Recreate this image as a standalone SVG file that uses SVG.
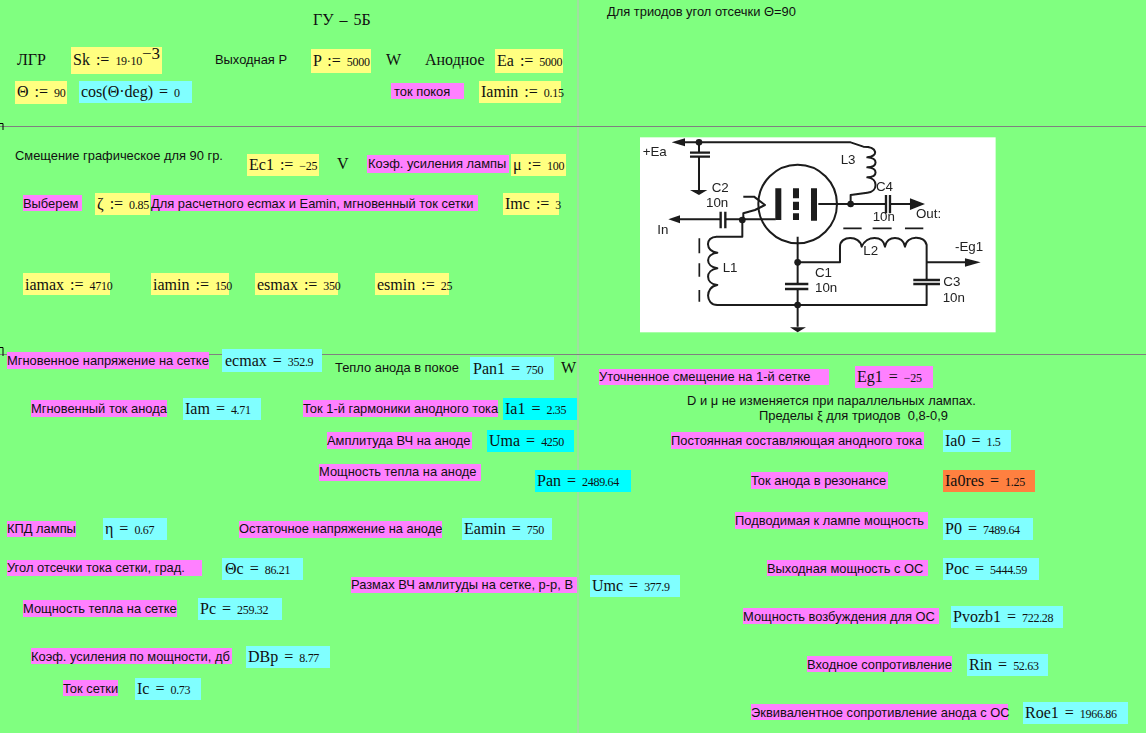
<svg xmlns="http://www.w3.org/2000/svg" width="1146" height="733" viewBox="0 0 1146 733">
<style>
text{fill:#101010;white-space:pre}
.s{font:12.900px "Liberation Sans",Arial,sans-serif}
.m{font:16px "Liberation Serif","Times New Roman",serif;word-spacing:2px}
.n{font-size:12px;letter-spacing:-.3px}
.y{fill:#ffff80}.c{fill:#80ffff}.p{fill:#ff80ff}.a{fill:#00ffff}.o{fill:#ff8040}
.w{fill:none;stroke:#1a1a1a;stroke-width:6;stroke-linejoin:round}
.t{font:40px "Liberation Sans",Arial,sans-serif;fill:#222}
.k{fill:#1a1a1a}
</style>
<defs>
<filter id="soft" x="-5%" y="-5%" width="110%" height="110%"><feGaussianBlur stdDeviation="1.8"/></filter>
</defs>
<rect width="1146" height="733" fill="#80ff80"/>
<g id="rules" fill="none">
<path d="M578 0V733" stroke="#c0c0c0"/>
<path d="M0 126.500H1146M0 354.500H1146" stroke="#808080"/>
<path d="M0 123.500H3V130M0 347.500H3V356" stroke="#000"/>
</g>

<g id="title"><text class="m" x="313" y="25">ГУ – 5Б</text></g>
<g id="lgr"><text class="m" x="17" y="65">ЛГР</text></g>
<g id="sk"><rect class="y" x="71" y="47" width="91" height="27"/><text class="m" x="73" y="65">Sk := <tspan class="n">19·10</tspan><tspan dy="-6" font-size="17">−3</tspan></text></g>
<g id="out-p-label"><text class="s" x="215" y="64">Выходная Р</text></g>
<g id="p"><rect class="y" x="311" y="49" width="60" height="24"/><text class="m" x="313" y="66">P := <tspan class="n">5000</tspan></text></g>
<g id="p-unit"><text class="m" x="386" y="65">W</text></g>
<g id="anode-label"><text class="m" x="425" y="65">Анодное</text></g>
<g id="ea"><rect class="y" x="495" y="49" width="68" height="24"/><text class="m" x="497" y="66">Ea := <tspan class="n">5000</tspan></text></g>
<g id="theta"><rect class="y" x="15" y="81" width="52" height="23"/><text class="m" x="17" y="97">Θ := <tspan class="n">90</tspan></text></g>
<g id="cos"><rect class="c" x="79" y="81" width="113" height="22"/><text class="m" x="81" y="97">cos(Θ·deg) = <tspan class="n">0</tspan></text></g>
<g id="idle-label"><rect class="p" x="391" y="83" width="73" height="16"/><text class="s" x="394" y="96">ток покоя</text></g>
<g id="iamin0"><rect class="y" x="479" y="81" width="82" height="22"/><text class="m" x="481" y="97">Iamin := <tspan class="n">0.15</tspan></text></g>
<g id="triode-note"><text class="s" x="607" y="16">Для триодов угол отсечки Θ=90</text></g>

<g id="bias-label"><text class="s" x="15" y="160">Смещение графическое для 90 гр.</text></g>
<g id="ec1"><rect class="y" x="247" y="154" width="72" height="22"/><text class="m" x="249" y="170">Ec1 := <tspan class="n">−25</tspan></text></g>
<g id="ec1-unit"><text class="m" x="337" y="169">V</text></g>
<g id="mu-label"><rect class="p" x="367" y="155" width="142" height="18"/><text class="s" x="368" y="168">Коэф. усиления лампы</text></g>
<g id="mu"><rect class="y" x="511" y="154" width="55" height="22"/><text class="m" x="513" y="170">μ := <tspan class="n">100</tspan></text></g>
<g id="choose-label"><rect class="p" x="23" y="195" width="59" height="16"/><text class="s" x="23" y="208">Выберем</text></g>
<g id="zeta"><rect class="y" x="95" y="193" width="55" height="22"/><text class="m" x="97" y="209">ζ := <tspan class="n">0.85</tspan></text></g>
<g id="imc-label"><rect class="p" x="151" y="195" width="327" height="16"/><text class="s" x="151" y="208">Для расчетного ecmax и Eamin, мгновенный ток сетки</text></g>
<g id="imc"><rect class="y" x="503" y="193" width="56" height="22"/><text class="m" x="505" y="209">Imc := <tspan class="n">3</tspan></text></g>
<g id="iamax"><rect class="y" x="23" y="273" width="87" height="22"/><text class="m" x="25" y="290">iamax := <tspan class="n">4710</tspan></text></g>
<g id="iamin"><rect class="y" x="151" y="273" width="78" height="22"/><text class="m" x="153" y="290">iamin := <tspan class="n">150</tspan></text></g>
<g id="esmax"><rect class="y" x="255" y="273" width="83" height="22"/><text class="m" x="257" y="290">esmax := <tspan class="n">350</tspan></text></g>
<g id="esmin"><rect class="y" x="375" y="273" width="74" height="22"/><text class="m" x="377" y="290">esmin := <tspan class="n">25</tspan></text></g>

<g id="schematic" transform="translate(630 130) scale(.3333)">
<rect x="30" y="22" width="1067" height="585" fill="#fff"/>
<g id="connectors" filter="url(#soft)">
<path class="w" d="M160 37H662L700 50C745 50 745 80 712 82C745 85 745 110 712 112C745 115 745 140 712 142C745 145 745 185 712 188L662 195V222M565 222H768M780 222H840M207 37V68M207 80V180M135 268H270M285 268H437M337 270V320H260C225 320 225 365 262 368C225 372 225 410 262 415C225 420 225 460 262 465C225 470 225 525 262 525H890V462M890 450V345C885 315 830 315 825 350C820 315 770 315 765 350C760 315 710 315 695 350C690 315 630 315 630 350V397H503M503 320V462M503 477V590M890 397H1010M340 200H372L405 225L375 240L340 250V270"/>
<path class="w" style="stroke-width:7" d="M180 68H240M180 80H240M272 245V295M286 245V295M768 195V250M780 195V250M465 462H535M465 477H535M850 450H930M850 462H930"/>
<path class="w" style="stroke-width:5" d="M640 295H695M728 295H785M825 295H880M208 325V370M208 400V440M208 480V515"/>
<circle cx="503" cy="222" r="118" class="w"/>
<path class="w" style="stroke-width:18" d="M445 175V270M552 175V272M498 175V205M498 215V240M498 250V270"/>
<g class="k">
<circle cx="207" cy="37" r="10"/><circle cx="662" cy="222" r="10"/><circle cx="337" cy="270" r="10"/><circle cx="503" cy="397" r="10"/><circle cx="503" cy="525" r="10"/>
<path d="M125 37L165 25V49ZM115 268L150 256V280ZM885 222L840 205V240ZM1052 397L1005 385V410ZM180 180H232L207 195ZM480 592H528L503 607Z"/>
</g>
<g id="schematic-labels">
<text class="t" x="38" y="78">+Ea</text>
<text class="t" x="632" y="102">L3</text>
<text class="t" x="245" y="185">C2</text>
<text class="t" x="228" y="231">10n</text>
<text class="t" x="82" y="313">In</text>
<text class="t" x="278" y="425">L1</text>
<text class="t" x="738" y="183">C4</text>
<text class="t" x="728" y="274">10n</text>
<text class="t" x="858" y="263">Out:</text>
<text class="t" x="700" y="374">L2</text>
<text class="t" x="975" y="364">-Eg1</text>
<text class="t" x="555" y="441">C1</text>
<text class="t" x="555" y="487">10n</text>
<text class="t" x="940" y="469">C3</text>
<text class="t" x="938" y="515">10n</text>
</g>
</g>
</g>

<g id="ecmax-label"><rect class="p" x="7" y="352" width="202" height="17"/><text class="s" x="7" y="365">Мгновенное напряжение на сетке</text></g>
<g id="ecmax"><rect class="c" x="222" y="349" width="100" height="23"/><text class="m" x="225" y="366">ecmax = <tspan class="n">352.9</tspan></text></g>
<g id="pan1-label"><text class="s" x="335" y="372">Тепло анода в покое</text></g>
<g id="pan1"><rect class="c" x="470" y="357" width="84" height="23"/><text class="m" x="473" y="374">Pan1 = <tspan class="n">750</tspan></text></g>
<g id="pan1-unit"><text class="m" x="561" y="373">W</text></g>
<g id="iam-label"><rect class="p" x="31" y="400" width="136" height="17"/><text class="s" x="31" y="413">Мгновенный ток анода</text></g>
<g id="iam"><rect class="c" x="183" y="398" width="78" height="22"/><text class="m" x="185" y="414">Iam = <tspan class="n">4.71</tspan></text></g>
<g id="ia1-label"><rect class="p" x="303" y="400" width="195" height="17"/><text class="s" x="303" y="413">Ток 1-й гармоники анодного тока</text></g>
<g id="ia1"><rect class="a" x="503" y="398" width="74" height="22"/><text class="m" x="505" y="414">Ia1 = <tspan class="n">2.35</tspan></text></g>
<g id="uma-label"><rect class="p" x="327" y="432" width="145" height="17"/><text class="s" x="327" y="445">Амплитуда ВЧ на аноде</text></g>
<g id="uma"><rect class="a" x="487" y="430" width="87" height="22"/><text class="m" x="489" y="446">Uma = <tspan class="n">4250</tspan></text></g>
<g id="pan-label"><rect class="p" x="319" y="464" width="162" height="17"/><text class="s" x="319" y="476">Мощность тепла на аноде</text></g>
<g id="pan"><rect class="a" x="535" y="470" width="96" height="22"/><text class="m" x="537" y="486">Pan = <tspan class="n">2489.64</tspan></text></g>
<g id="eta-label"><rect class="p" x="7" y="521" width="69" height="16"/><text class="s" x="7" y="533">КПД лампы</text></g>
<g id="eta"><rect class="c" x="103" y="518" width="64" height="22"/><text class="m" x="105" y="534">η = <tspan class="n">0.67</tspan></text></g>
<g id="eamin-label"><rect class="p" x="239" y="521" width="203" height="17"/><text class="s" x="239" y="533">Остаточное напряжение на аноде</text></g>
<g id="eamin"><rect class="c" x="462" y="518" width="90" height="22"/><text class="m" x="464" y="534">Eamin = <tspan class="n">750</tspan></text></g>
<g id="thetac-label"><rect class="p" x="7" y="560" width="195" height="16"/><text class="s" x="7" y="572">Угол отсечки тока сетки, град.</text></g>
<g id="thetac"><rect class="c" x="222" y="558" width="81" height="22"/><text class="m" x="225" y="574">Θc = <tspan class="n">86.21</tspan></text></g>
<g id="umc-label"><rect class="p" x="351" y="577" width="226" height="16"/><text class="s" x="351" y="589">Размах ВЧ амлитуды на сетке, р-р, В</text></g>
<g id="umc"><rect class="c" x="590" y="575" width="90" height="22"/><text class="m" x="592" y="591">Umc = <tspan class="n">377.9</tspan></text></g>
<g id="pc-label"><rect class="p" x="23" y="600" width="154" height="17"/><text class="s" x="23" y="613">Мощность тепла на сетке</text></g>
<g id="pc"><rect class="c" x="198" y="598" width="84" height="22"/><text class="m" x="200" y="614">Pc = <tspan class="n">259.32</tspan></text></g>
<g id="dbp-label"><rect class="p" x="31" y="648" width="201" height="16"/><text class="s" x="31" y="661">Коэф. усиления по мощности, дб</text></g>
<g id="dbp"><rect class="c" x="246" y="646" width="84" height="22"/><text class="m" x="248" y="662">DBp = <tspan class="n">8.77</tspan></text></g>
<g id="ic-label"><rect class="p" x="63" y="680" width="55" height="16"/><text class="s" x="63" y="693">Ток сетки</text></g>
<g id="ic"><rect class="c" x="135" y="678" width="66" height="22"/><text class="m" x="137" y="694">Ic = <tspan class="n">0.73</tspan></text></g>

<g id="eg1-label"><rect class="p" x="599" y="369" width="230" height="16"/><text class="s" x="599" y="381">Уточненное смещение на 1-й сетке</text></g>
<g id="eg1"><rect class="p" x="855" y="366" width="78" height="22"/><text class="m" x="857" y="382">Eg1 = <tspan class="n">−25</tspan></text></g>
<g id="note"><text class="s" x="687" y="405">D и μ не изменяется при параллельных лампах.</text><text class="s" x="759" y="420">Пределы ξ для триодов  0,8-0,9</text></g>
<g id="ia0-label"><rect class="p" x="671" y="432" width="253" height="17"/><text class="s" x="671" y="445">Постоянная составляющая анодного тока</text></g>
<g id="ia0"><rect class="c" x="943" y="430" width="68" height="22"/><text class="m" x="945" y="446">Ia0 = <tspan class="n">1.5</tspan></text></g>
<g id="ia0res-label"><rect class="p" x="751" y="472" width="137" height="17"/><text class="s" x="751" y="485">Ток анода в резонансе</text></g>
<g id="ia0res"><rect class="o" x="943" y="470" width="92" height="22"/><text class="m" x="945" y="486">Ia0res = <tspan class="n">1.25</tspan></text></g>
<g id="p0-label"><rect class="p" x="735" y="512" width="193" height="17"/><text class="s" x="735" y="525">Подводимая к лампе мощность</text></g>
<g id="p0"><rect class="c" x="943" y="518" width="90" height="22"/><text class="m" x="945" y="534">P0 = <tspan class="n">7489.64</tspan></text></g>
<g id="poc-label"><rect class="p" x="767" y="560" width="161" height="16"/><text class="s" x="767" y="573">Выходная мощность с ОС</text></g>
<g id="poc"><rect class="c" x="943" y="558" width="96" height="22"/><text class="m" x="945" y="574">Poc = <tspan class="n">5444.59</tspan></text></g>
<g id="pvozb-label"><rect class="p" x="743" y="608" width="196" height="16"/><text class="s" x="743" y="621">Мощность возбуждения для ОС</text></g>
<g id="pvozb"><rect class="c" x="951" y="606" width="112" height="22"/><text class="m" x="953" y="622">Pvozb1 = <tspan class="n">722.28</tspan></text></g>
<g id="rin-label"><rect class="p" x="807" y="656" width="145" height="16"/><text class="s" x="807" y="669">Входное сопротивление</text></g>
<g id="rin"><rect class="c" x="967" y="654" width="81" height="22"/><text class="m" x="969" y="670">Rin = <tspan class="n">52.63</tspan></text></g>
<g id="roe-label"><rect class="p" x="751" y="704" width="257" height="16"/><text class="s" x="751" y="717">Эквивалентное сопротивление анода с ОС</text></g>
<g id="roe"><rect class="c" x="1023" y="702" width="105" height="22"/><text class="m" x="1025" y="718">Roe1 = <tspan class="n">1966.86</tspan></text></g>
</svg>
